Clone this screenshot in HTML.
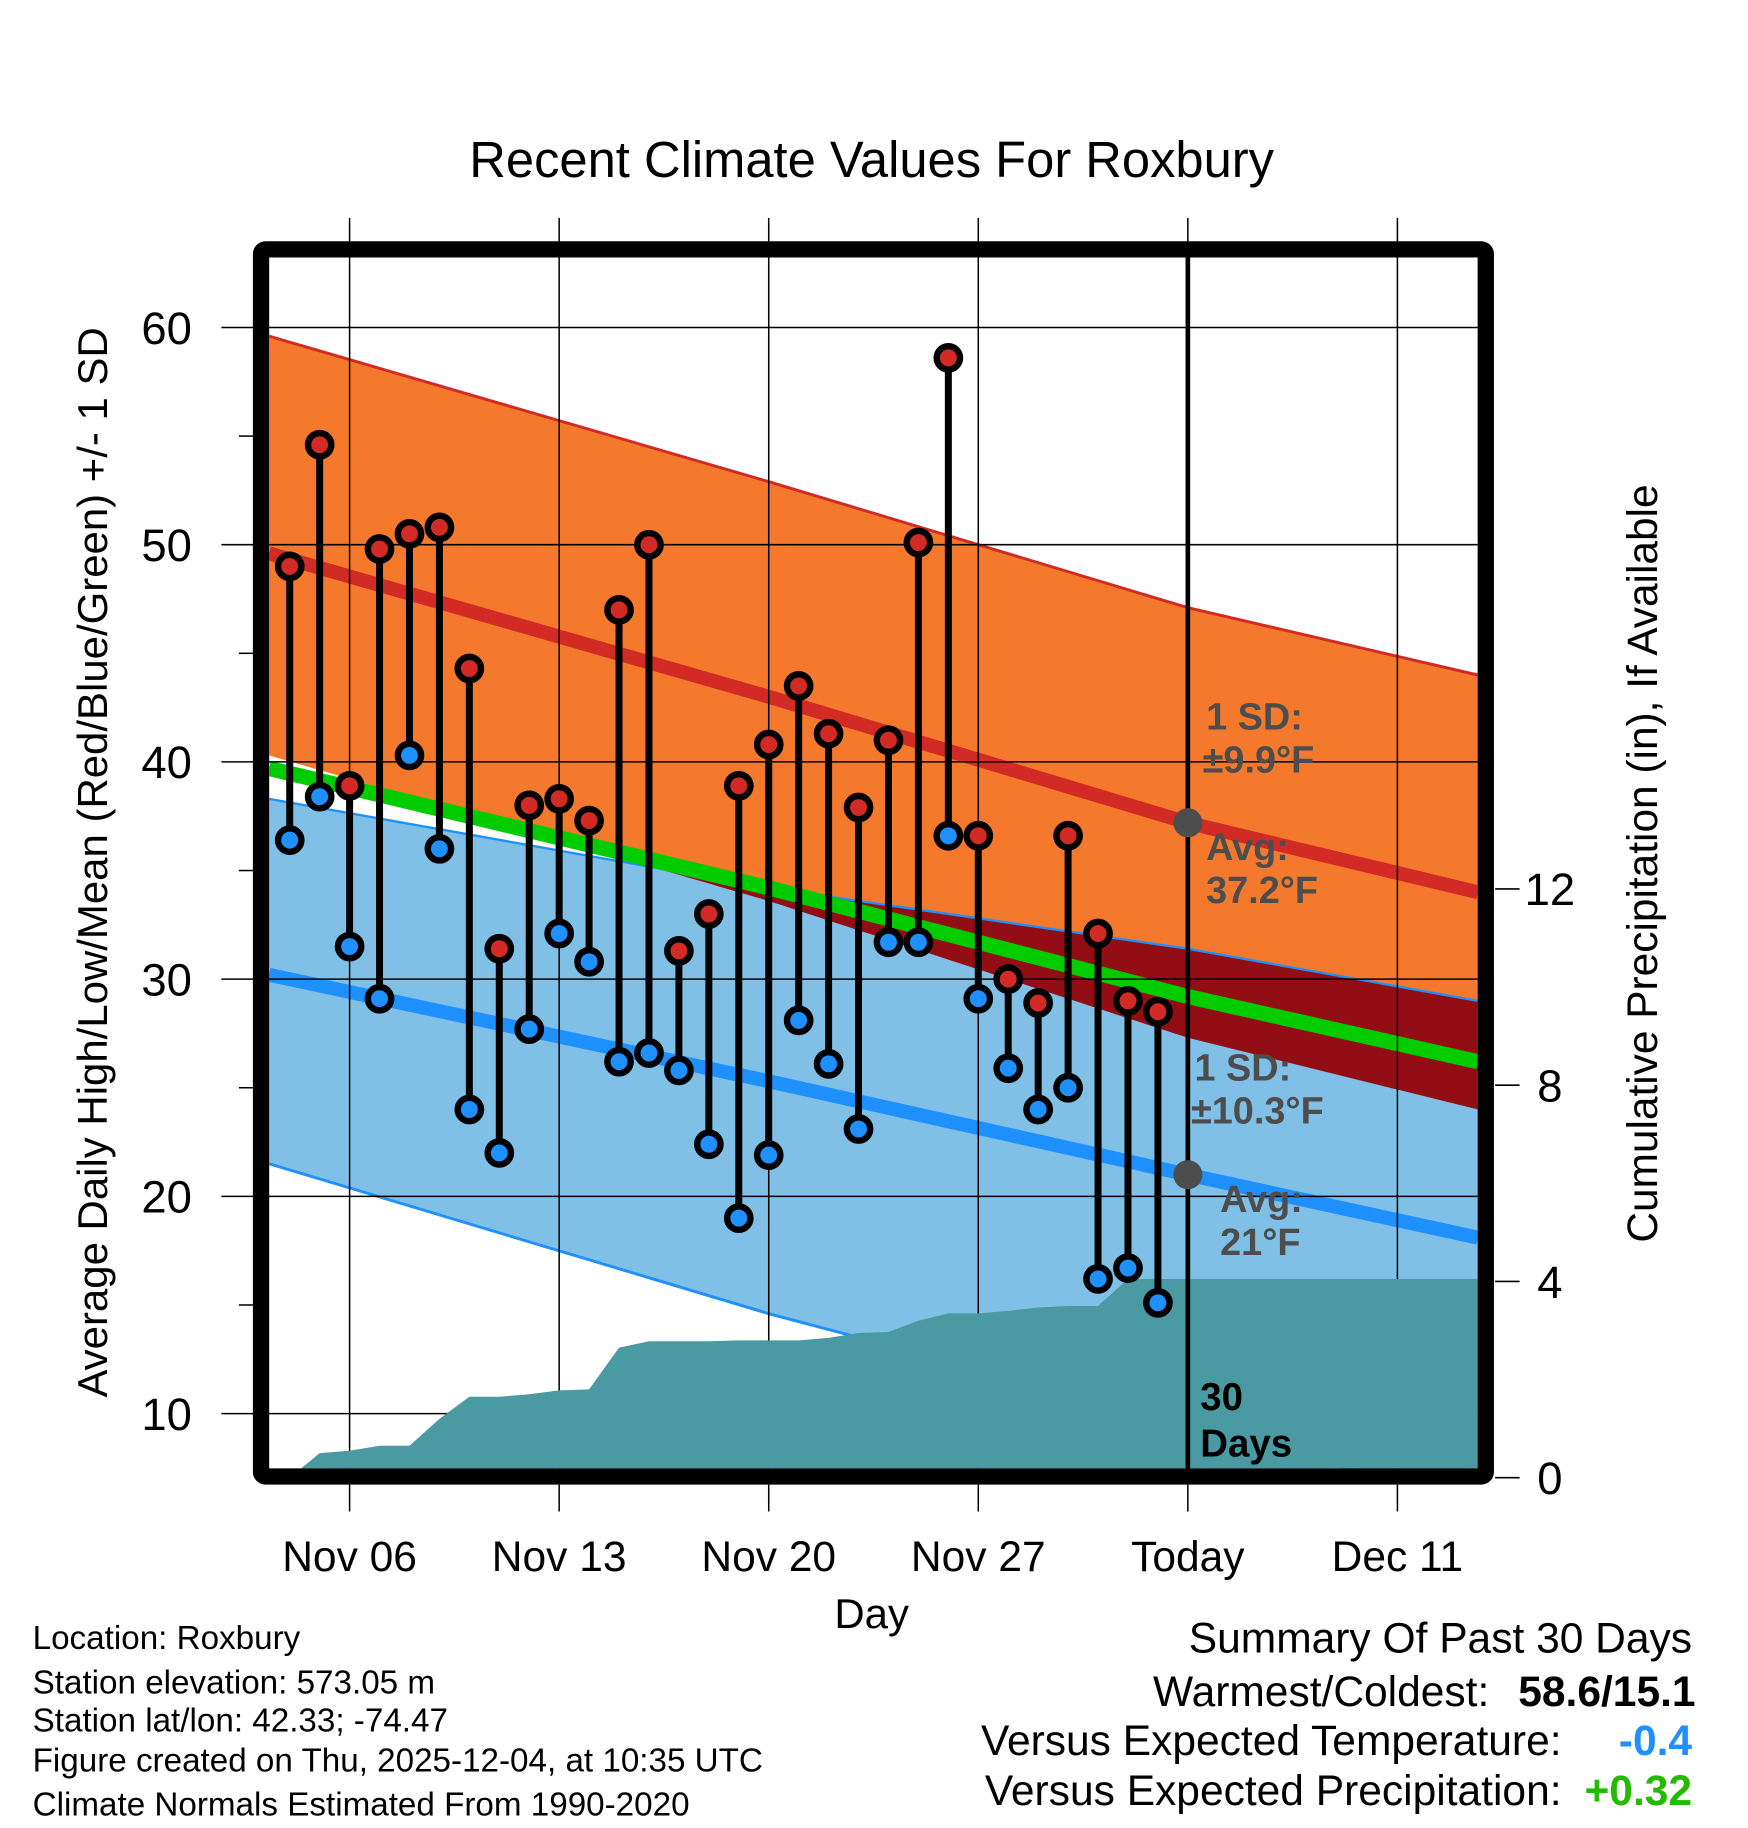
<!DOCTYPE html>
<html><head><meta charset="utf-8"><style>
html,body{margin:0;padding:0;background:#fff;}
svg{display:block;font-family:"Liberation Sans",sans-serif;}
</style></head><body>
<svg id="chart" width="1748" height="1828" viewBox="0 0 1500 1568.6" preserveAspectRatio="none" xmlns="http://www.w3.org/2000/svg">
<defs><clipPath id="plotclip"><rect x="231" y="221" width="1037" height="1039"/></clipPath></defs>
<text x="748" y="152" font-size="43.5" text-anchor="middle">Recent Climate Values For Roxbury</text>
<g id="bands" clip-path="url(#plotclip)"></g>
<g id="grid"></g>
<g id="precip" clip-path="url(#plotclip)"></g>
<g id="axes"></g>
<g id="marks"></g>
<g id="annot"></g>
<text transform="translate(92,740) rotate(-90)" font-size="36" text-anchor="middle">Average Daily High/Low/Mean (Red/Blue/Green) +/- 1 SD</text>
<text transform="translate(1422,741) rotate(-90)" font-size="36.4" text-anchor="middle">Cumulative Precipitation (in), If Available</text>
<text x="748" y="1397" font-size="36" text-anchor="middle">Day</text>
<g font-size="28.5">
<text x="28" y="1415">Location: Roxbury</text>
<text x="28" y="1453">Station elevation: 573.05 m</text>
<text x="28" y="1486">Station lat/lon: 42.33; -74.47</text>
<text x="28" y="1520">Figure created on Thu, 2025-12-04, at 10:35 UTC</text>
<text x="28" y="1558">Climate Normals Estimated From 1990-2020</text>
</g>
<g font-size="36.5" text-anchor="end">
<text x="1452" y="1418">Summary Of Past 30 Days</text>
<text x="1278" y="1464">Warmest/Coldest:</text>
<text x="1455" y="1464" font-weight="bold">58.6/15.1</text>
<text x="1340" y="1506">Versus Expected Temperature:</text>
<text x="1452" y="1506" font-weight="bold" fill="#1e90ff">-0.4</text>
<text x="1340" y="1549">Versus Expected Precipitation:</text>
<text x="1452" y="1549" font-weight="bold" fill="#22bb00">+0.32</text>
</g>
</svg>
<script>
// ---- data ----
const dayLabels = ["Nov 04","Nov 05","Nov 06","Nov 07","Nov 08","Nov 09","Nov 10","Nov 11","Nov 12","Nov 13","Nov 14","Nov 15","Nov 16","Nov 17","Nov 18","Nov 19","Nov 20","Nov 21","Nov 22","Nov 23","Nov 24","Nov 25","Nov 26","Nov 27","Nov 28","Nov 29","Nov 30","Dec 01","Dec 02","Dec 03"];
const dayIndex = [-2,-1,0,1,2,3,4,5,6,7,8,9,10,11,12,13,14,15,16,17,18,19,20,21,22,23,24,25,26,27];
const highs = [49.0,54.6,38.9,49.8,50.5,50.8,44.3,31.4,38.0,38.3,37.3,47.0,50.0,31.3,33.0,38.9,40.8,43.5,41.3,37.9,41.0,50.1,58.6,36.6,30.0,28.9,36.6,32.1,29.0,28.5];
const lows = [36.4,38.4,31.5,29.1,40.3,36.0,24.0,22.0,27.7,32.1,30.8,26.2,26.6,25.8,22.4,19.0,21.9,28.1,26.1,23.1,31.7,31.7,36.6,29.1,25.9,24.0,25.0,16.2,16.7,15.1];
const precip = [0,0.5,0.55,0.65,0.65,1.2,1.65,1.65,1.7,1.78,1.8,2.65,2.78,2.78,2.78,2.8,2.8,2.8,2.85,2.95,2.97,3.2,3.35,3.35,3.4,3.47,3.5,3.5,4.05,4.05];
const normDays = [-2.69,14,28,37.69];
const hiUpper = [59.6,52.9,47.1,44.0];
const hiMean = [49.6,43.0,37.2,34.0];
const hiLower = [40.3,33.6,27.3,24.0];
const meanNorm = [39.7,34.2,29.2,26.2];
const loUpper = [38.3,34.2,31.4,29.0];
const loMean = [30.2,25.3,21.0,18.1];
const loLower = [21.5,14.6,9.5,5.8];
const xTickDays = [0,7,14,21,28,35];
const xTickLabels = ["Nov 06","Nov 13","Nov 20","Nov 27","Today","Dec 11"];
const yTicks = [10,20,30,40,50,60];
const y2Ticks = [0,4,8,12];

// ---- scales ----
const L=231,R=1268,T=221,B=1260;
const X=d=>300+d*25.69;
const Y=v=>281+(60-v)*18.64;
const Y2=p=>1268-p*42.1;
const NS="http://www.w3.org/2000/svg";
function mk(tag,parent,attrs){const e=document.createElementNS(NS,tag);for(const k in attrs)e.setAttribute(k,attrs[k]);document.getElementById(parent).appendChild(e);return e;}
const line=(arr)=>normDays.map((d,i)=>X(d)+","+Y(arr[i])).join(" ");
const band=(up,lo)=>normDays.map((d,i)=>X(d)+","+Y(up[i])).concat(normDays.slice().reverse().map((d,j)=>{const i=normDays.length-1-j;return X(d)+","+Y(lo[i]);})).join(" ");

let e;
e=mk("polygon","bands",{points:band(hiUpper,hiLower),fill:"#f5792d"});


e=mk("polygon","bands",{points:band(loUpper,loLower),fill:"#80c0e6"});


(function(){
  const N=200,top=[],bot=[];
  const interp=(arr,d)=>{for(let i=0;i<normDays.length-1;i++){if(d<=normDays[i+1]){const t=(d-normDays[i])/(normDays[i+1]-normDays[i]);return arr[i]+t*(arr[i+1]-arr[i]);}}return arr[arr.length-1];};
  for(let k=0;k<=N;k++){const d=normDays[0]+(normDays[3]-normDays[0])*k/N;const bu=interp(loUpper,d),ol=interp(hiLower,d);top.push(X(d)+","+Y(Math.max(bu,ol)));bot.push(X(d)+","+Y(ol));}
  e=mk("polygon","bands",{points:top.concat(bot.reverse()).join(" "),fill:"#930e14"});
  
  
})();
e=mk("polyline","bands",{points:line(hiUpper),fill:"none",stroke:"#d22a24","stroke-width":2.5});


e=mk("polyline","bands",{points:line(loUpper),fill:"none",stroke:"#1e90ff","stroke-width":2});


e=mk("polyline","bands",{points:line(loLower),fill:"none",stroke:"#1e90ff","stroke-width":2.5});


e=mk("polyline","bands",{points:line(meanNorm),fill:"none",stroke:"#00cc00","stroke-width":13});


e=mk("polyline","bands",{points:line(hiMean),fill:"none",stroke:"#d22a24","stroke-width":12});


e=mk("polyline","bands",{points:line(loMean),fill:"none",stroke:"#1e90ff","stroke-width":12});



xTickDays.forEach((d,i)=>{
  e=mk("line","grid",{x1:X(d),x2:X(d),y1:187,y2:B,stroke:"#000","stroke-width":1.3});
  
  
  e=mk("line","axes",{x1:X(d),x2:X(d),y1:1274,y2:1297,stroke:"#000","stroke-width":1.3});
  
  
  e=mk("text","axes",{x:X(d),y:1348,"font-size":36.5,"text-anchor":"middle"});
  e.textContent=xTickLabels[i];
  
  
});
yTicks.forEach(v=>{
  e=mk("line","grid",{x1:190,x2:R,y1:Y(v),y2:Y(v),stroke:"#000","stroke-width":1.3});
  
  
  e=mk("text","axes",{x:143,y:Y(v)+14,"font-size":39,"text-anchor":"middle"});
  e.textContent=v;
  
  
});
[15,25,35,45,55].forEach(v=>{
  e=mk("line","axes",{x1:205,x2:217,y1:Y(v),y2:Y(v),stroke:"#000","stroke-width":1.3});
  
  
});
y2Ticks.forEach(p=>{
  e=mk("line","axes",{x1:1283,x2:1304,y1:Y2(p),y2:Y2(p),stroke:"#000","stroke-width":1.3});
  
  
  e=mk("text","axes",{x:1330,y:Y2(p)+14,"font-size":39,"text-anchor":"middle"});
  e.textContent=p;
  
  
});

(function(){
  const pts=[X(dayIndex[0])+","+Y2(0)];
  dayIndex.forEach((d,i)=>pts.push(X(d)+","+Y2(precip[i])));
  pts.push(R+","+Y2(precip[precip.length-1]));
  pts.push(R+","+Y2(0));
  e=mk("polygon","precip",{points:pts.join(" "),fill:"#4a9aa4"});
  
  
})();

e=mk("line","precip",{x1:X(28),x2:X(28),y1:T,y2:B,stroke:"#000","stroke-width":4});



e=mk("rect","axes",{x:224,y:214,width:1051,height:1053,fill:"none",stroke:"#000","stroke-width":14,rx:4});



dayIndex.forEach((d,i)=>{
  e=mk("line","marks",{x1:X(d),x2:X(d),y1:Y(highs[i]),y2:Y(lows[i]),stroke:"#000","stroke-width":6});
  
  
});
dayIndex.forEach((d,i)=>{
  e=mk("circle","marks",{cx:X(d),cy:Y(highs[i]),r:10,fill:"#d22a24",stroke:"#000","stroke-width":5.5});
  
  
  e=mk("circle","marks",{cx:X(d),cy:Y(lows[i]),r:10,fill:"#1e90ff",stroke:"#000","stroke-width":5.5});
  
  
});

e=mk("circle","annot",{cx:X(28),cy:Y(hiMean[2]),r:12.5,fill:"#4d4d4d"});


e=mk("circle","annot",{cx:X(28),cy:Y(loMean[2]),r:12.5,fill:"#4d4d4d"});


const ann=[[1035,626,"1 SD:"],[1032,663,"±9.9°F"],[1035,738,"Avg:"],[1035,775,"37.2°F"],[1025,927,"1 SD:"],[1022,964,"±10.3°F"],[1047,1040,"Avg:"],[1047,1077,"21°F"]];
ann.forEach(a=>{
  e=mk("text","annot",{x:a[0],y:a[1],"font-size":32.5,"font-weight":"bold",fill:"#4d4d4d"});
  e.textContent=a[2];
  
  
});
[[1030,1210,"30"],[1030,1250,"Days"]].forEach(a=>{
  e=mk("text","annot",{x:a[0],y:a[1],"font-size":33,"font-weight":"bold",fill:"#000"});
  e.textContent=a[2];
  
  
});
</script>
</body></html>
